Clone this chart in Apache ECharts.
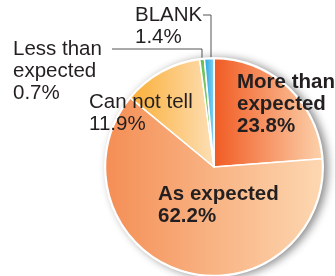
<!DOCTYPE html>
<html>
<head>
<meta charset="utf-8">
<script src="https://cdn.jsdelivr.net/npm/echarts@6/dist/echarts.min.js"></script>
<style>
    html, body { margin: 0; padding: 0; background: #fff; }
    #main { width: 335px; height: 276px; }
</style>
</head>
<body>
<div id="main"></div>
<script>
// 数据
var categories = ['More than\nexpected', 'As expected', 'Can not tell', 'Less than\nexpected', 'BLANK'];
var values = [23.8, 62.2, 11.9, 0.7, 1.4];
var percentLabels = ['23.8%', '62.2%', '11.9%', '0.7%', '1.4%'];

// 渐变色
function grad(c1, c2) {
    return new echarts.graphic.LinearGradient(0, 0, 1, 0, [
        {offset: 0, color: c1},
        {offset: 1, color: c2}
    ]);
}
var colors = [
    grad('#F15A22', '#FCD2AC'),
    grad('#F48E55', '#FDD8B2'),
    grad('#FBAE36', '#FDDFB6'),
    grad('#5DB846', '#A8D88C'),
    grad('#1AA2DE', '#8FD5F3')
];
var boldIdx = [0, 1];
// 标签位置 (x, 中心y)
var labelPos = [
    [237, 104],
    [158, 205],
    [89, 113],
    [13, 71],
    [135, 26]
];

var chart = echarts.init(document.getElementById('main'));
var center = [214, 167];
chart.setOption({
    animation: false,
    series: [
        {
            type: 'pie',
            silent: true,
            center: center,
            radius: 110,
            label: {show: false},
            itemStyle: {
                color: '#fff',
                shadowBlur: 9,
                shadowOffsetX: 4,
                shadowOffsetY: 1,
                shadowColor: 'rgba(0,0,0,0.45)'
            },
            data: [1]
        },
        {
            type: 'pie',
            center: center,
            radius: 108.5,
            startAngle: 90,
            clockwise: true,
            avoidLabelOverlap: false,
            itemStyle: {
                borderColor: '#fff',
                borderWidth: 1.5
            },
            label: {
                fontFamily: 'Liberation Sans, Arial, sans-serif',
                fontSize: 20.5,
                lineHeight: 22,
                color: '#231F20'
            },
            labelLine: {
                lineStyle: {color: '#555', width: 1}
            },
            labelLayout: function (params) {
                var i = params.dataIndex;
                var out = {
                    x: labelPos[i][0],
                    y: labelPos[i][1],
                    align: 'left',
                    verticalAlign: 'middle'
                };
                if (i === 3) {
                    out.labelLinePoints = [[202, 62], [202, 49], [112, 49]];
                }
                if (i === 4) {
                    out.labelLinePoints = [[211, 83], [211, 15], [203, 15]];
                }
                return out;
            },
            data: categories.map(function (name, i) {
                return {
                    name: name,
                    value: values[i],
                    itemStyle: {color: colors[i]},
                    label: {
                        formatter: name + '\n' + percentLabels[i],
                        fontWeight: boldIdx.indexOf(i) >= 0 ? 'bold' : 'normal'
                    },
                    labelLine: {show: i >= 3}
                };
            })
        }
    ]
});
</script>
</body>
</html>
